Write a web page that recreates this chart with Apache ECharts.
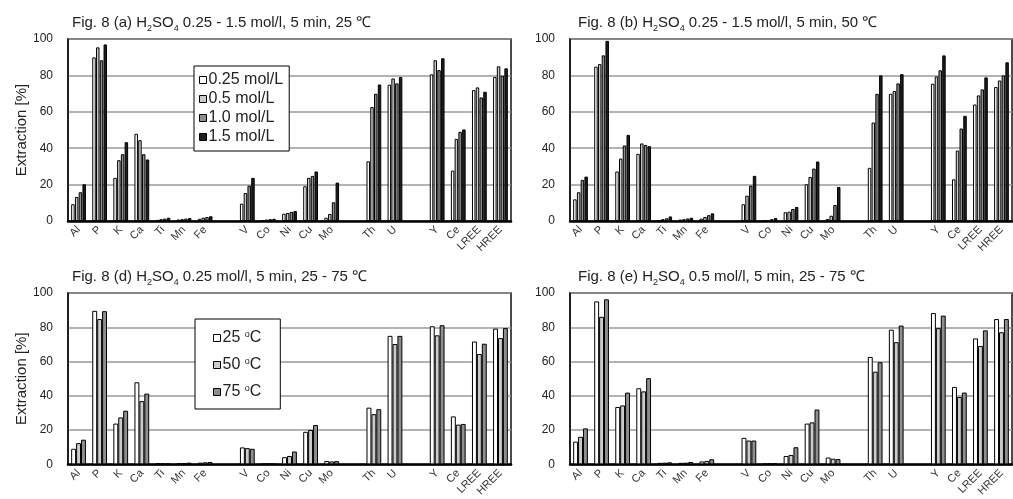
<!DOCTYPE html>
<html>
<head>
<meta charset="utf-8">
<script src="https://cdn.jsdelivr.net/npm/echarts@6/dist/echarts.min.js"></script>
<style>
  html, body { margin: 0; padding: 0; background: #fff; }
  #chart { width: 1013px; height: 499px; }
</style>
</head>
<body>
<div id="chart"></div>
<script>
// 元素类别（空串为分组间隔）
var categories = ['Al', 'P', 'K', 'Ca', 'Ti', 'Mn', 'Fe', '', 'V', 'Co', 'Ni', 'Cu', 'Mo', '', 'Th', 'U', '', 'Y', 'Ce', 'LREE', 'HREE'];
var yTicks = [0, 20, 40, 60, 80, 100];

// (a) H2SO4 0.25 - 1.5 mol/l, 25 ℃
var a025 = [9.2, 89.9, 23.7, 47.9, 0.6, 0.8, 1.2, null, 9.5, 0.5, 4.0, 19.1, 1.8, null, 32.8, 74.9, null, 80.6, 27.7, 71.9, 79.1];
var a05  = [13.2, 95.4, 33.4, 44.4, 1.0, 1.0, 1.8, null, 15.4, 0.8, 4.4, 23.7, 3.9, null, 62.6, 78.3, null, 88.3, 45.1, 73.4, 85.0];
var a10  = [15.8, 88.3, 36.7, 36.7, 1.3, 1.3, 2.2, null, 19.4, 1.0, 5.0, 24.8, 10.3, null, 69.9, 75.6, null, 82.9, 49.0, 67.9, 79.8];
var a15  = [20.2, 97.0, 43.3, 33.8, 1.8, 1.6, 2.6, null, 23.7, 1.2, 5.5, 27.2, 21.1, null, 75.0, 79.1, null, 89.4, 50.3, 71.0, 83.9];

// (b) H2SO4 0.25 - 1.5 mol/l, 50 ℃
var b025 = [11.9, 84.8, 27.2, 36.9, 0.4, 0.8, 1.3, null, 9.2, 0.2, 4.8, 20.2, 1.1, null, 29.2, 69.9, null, 75.4, 22.9, 64.0, 73.6];
var b05  = [15.8, 86.2, 34.3, 42.6, 1.0, 1.0, 2.2, null, 13.9, 0.5, 5.1, 24.2, 2.9, null, 54.1, 71.4, null, 79.4, 38.7, 69.0, 77.2];
var b10  = [22.6, 91.0, 41.5, 41.8, 1.5, 1.4, 3.2, null, 19.4, 1.0, 6.6, 28.8, 8.8, null, 69.9, 75.6, null, 82.8, 50.8, 72.3, 80.0];
var b15  = [24.4, 99.0, 47.3, 41.1, 2.5, 1.8, 4.2, null, 24.8, 1.6, 7.7, 32.7, 18.7, null, 80.0, 80.7, null, 91.0, 57.8, 78.9, 87.2];

// (d) H2SO4 0.25 mol/l, 25 - 75 ℃
var d25 = [9.1, 89.6, 23.8, 47.9, 0.6, 0.6, 1.0, null, 9.9, 0.3, 4.2, 19.0, 2.0, null, 33.1, 75.0, null, 80.6, 28.0, 71.7, 79.2];
var d50 = [12.4, 84.8, 27.4, 36.9, 0.5, 0.8, 1.2, null, 9.5, 0.3, 4.9, 20.1, 1.7, null, 29.3, 70.2, null, 75.3, 23.2, 64.4, 73.7];
var d75 = [14.4, 89.4, 31.3, 41.3, 0.5, 1.0, 1.4, null, 9.1, 0.3, 7.5, 23.0, 1.9, null, 32.2, 75.0, null, 81.2, 23.6, 70.4, 79.5];

// (e) H2SO4 0.5 mol/l, 25 - 75 ℃
var e25 = [13.3, 95.1, 33.5, 44.4, 0.9, 0.9, 1.7, null, 15.5, 0.4, 4.9, 23.8, 4.0, null, 62.7, 78.6, null, 88.3, 45.2, 73.5, 84.8];
var e50 = [16.1, 86.1, 34.4, 42.6, 1.0, 1.0, 2.0, null, 13.9, 0.5, 5.5, 24.5, 3.3, null, 54.1, 71.3, null, 79.5, 39.3, 69.1, 77.1];
var e75 = [21.0, 96.3, 41.9, 50.3, 1.2, 1.4, 3.0, null, 13.9, 0.6, 10.0, 32.0, 3.1, null, 59.6, 81.0, null, 86.8, 41.9, 78.2, 84.8];

var concNames = ['0.25 mol/L', '0.5 mol/L', '1.0 mol/L', '1.5 mol/L'];
var tempNames = ['25 °C', '50 °C', '75 °C'];
var fillColors = ['#ffffff', '#cbcbcb', '#8e8e8e', '#1e1e1e'];

var FONT = '"Liberation Sans", Arial, sans-serif';

$chart = document.getElementById('chart');
var myChart = echarts.init($chart);

function titleText(tag, rest) {
    return '{t|Fig. 8 (' + tag + ') H}{s|2}{t|SO}{s|4}{t| ' + rest + '}';
}

function makeTitle(tag, rest, left, top) {
    return {
        text: titleText(tag, rest),
        left: left,
        top: top,
        padding: 0,
        textStyle: {
            fontWeight: 'normal',
            rich: {
                t: { fontFamily: FONT, fontSize: 15, fontWeight: 'normal', color: '#222', lineHeight: 17, verticalAlign: 'bottom' },
                s: { fontFamily: FONT, fontSize: 9, fontWeight: 'normal', color: '#222', lineHeight: 17, verticalAlign: 'bottom', padding: [0, 0, -3, 0] }
            }
        }
    };
}

var grids = [
    { left: 68, top: 39, width: 443, height: 182 },
    { left: 570, top: 39, width: 442, height: 182 },
    { left: 68, top: 293, width: 443, height: 182 },
    { left: 570, top: 293, width: 442, height: 182 }
];

var xAxes = [], yAxes = [];
for (var i = 0; i < 4; i++) {
    grids[i].show = true;
    grids[i].borderColor = '#111';
    grids[i].borderWidth = 1.5;
    grids[i].backgroundColor = 'transparent';
    xAxes.push({
        type: 'category',
        gridIndex: i,
        data: categories,
        axisLine: { show: true, lineStyle: { color: '#000', width: 2.5 } },
        axisTick: { show: false },
        axisLabel: { interval: 0, rotate: 45, margin: 7, fontSize: 11, color: '#333', fontFamily: FONT }
    });
    yAxes.push({
        type: 'value',
        gridIndex: i,
        min: yTicks[0],
        max: yTicks[yTicks.length - 1],
        interval: 20,
        name: (i % 2 === 0) ? 'Extraction [%]' : '',
        nameLocation: 'middle',
        nameGap: 37,
        nameTextStyle: { fontSize: 15, color: '#222', fontFamily: FONT },
        axisLine: { show: true, lineStyle: { color: '#111', width: 1.5 } },
        axisTick: { show: false },
        axisLabel: { margin: 15, fontSize: 12, color: '#222', fontFamily: FONT },
        splitLine: { show: true, lineStyle: { color: '#9a9a9a', width: 1.5 } }
    });
}

function barSeries(name, data, idx, colorIdx, gap) {
    return {
        name: name,
        type: 'bar',
        xAxisIndex: idx,
        yAxisIndex: idx,
        data: data,
        barGap: gap,
        barCategoryGap: '30%',
        itemStyle: { color: fillColors[colorIdx], borderColor: '#000', borderWidth: 1 },
        emphasis: { disabled: true }
    };
}

var series = [
    barSeries(concNames[0], a025, 0, 0, '8%'),
    barSeries(concNames[1], a05, 0, 1, '8%'),
    barSeries(concNames[2], a10, 0, 2, '8%'),
    barSeries(concNames[3], a15, 0, 3, '8%'),
    barSeries(concNames[0], b025, 1, 0, '8%'),
    barSeries(concNames[1], b05, 1, 1, '8%'),
    barSeries(concNames[2], b10, 1, 2, '8%'),
    barSeries(concNames[3], b15, 1, 3, '8%'),
    barSeries(tempNames[0], d25, 2, 0, '0%'),
    barSeries(tempNames[1], d50, 2, 1, '0%'),
    barSeries(tempNames[2], d75, 2, 2, '0%'),
    barSeries(tempNames[0], e25, 3, 0, '0%'),
    barSeries(tempNames[1], e50, 3, 1, '0%'),
    barSeries(tempNames[2], e75, 3, 2, '0%')
];

option = {
    animation: false,
    backgroundColor: '#fff',
    title: [
        makeTitle('a', '0.25 - 1.5 mol/l, 5 min, 25 ℃', 72, 13),
        makeTitle('b', '0.25 - 1.5 mol/l, 5 min, 50 ℃', 578, 13),
        makeTitle('d', '0.25 mol/l, 5 min, 25 - 75 ℃', 72, 267),
        makeTitle('e', '0.5 mol/l, 5 min, 25 - 75 ℃', 578, 267)
    ],
    grid: grids,
    xAxis: xAxes,
    yAxis: yAxes,
    legend: [
        {
            data: concNames,
            orient: 'vertical',
            left: 194,
            top: 66,
            padding: [6, 6, 6, 5],
            itemGap: 3,
            itemWidth: 7,
            itemHeight: 7,
            icon: 'rect',
            backgroundColor: '#fff',
            borderColor: '#000',
            borderWidth: 1,
            selectedMode: false,
            itemStyle: { borderColor: '#000', borderWidth: 1 },
            textStyle: { fontSize: 16, color: '#222', fontFamily: FONT, padding: [0, 0, 0, -3] }
        },
        {
            data: tempNames,
            orient: 'vertical',
            left: 195,
            top: 319,
            padding: [11, 19, 9, 18],
            itemGap: 11,
            itemWidth: 7,
            itemHeight: 7,
            icon: 'rect',
            backgroundColor: '#fff',
            borderColor: '#000',
            borderWidth: 1,
            selectedMode: false,
            itemStyle: { borderColor: '#000', borderWidth: 1 },
            formatter: function (name) {
                var n = name.split(' ')[0];
                return '{n|' + n + ' }{o|o}{n|C}';
            },
            textStyle: {
                padding: [0, 0, 0, -3],
                rich: {
                    n: { fontSize: 16, color: '#222', fontFamily: FONT, lineHeight: 16 },
                    o: { fontSize: 9, color: '#222', fontFamily: FONT, lineHeight: 16, verticalAlign: 'top' }
                }
            }
        }
    ],
    series: series
};
myChart.setOption(option);
</script>
</body>
</html>
